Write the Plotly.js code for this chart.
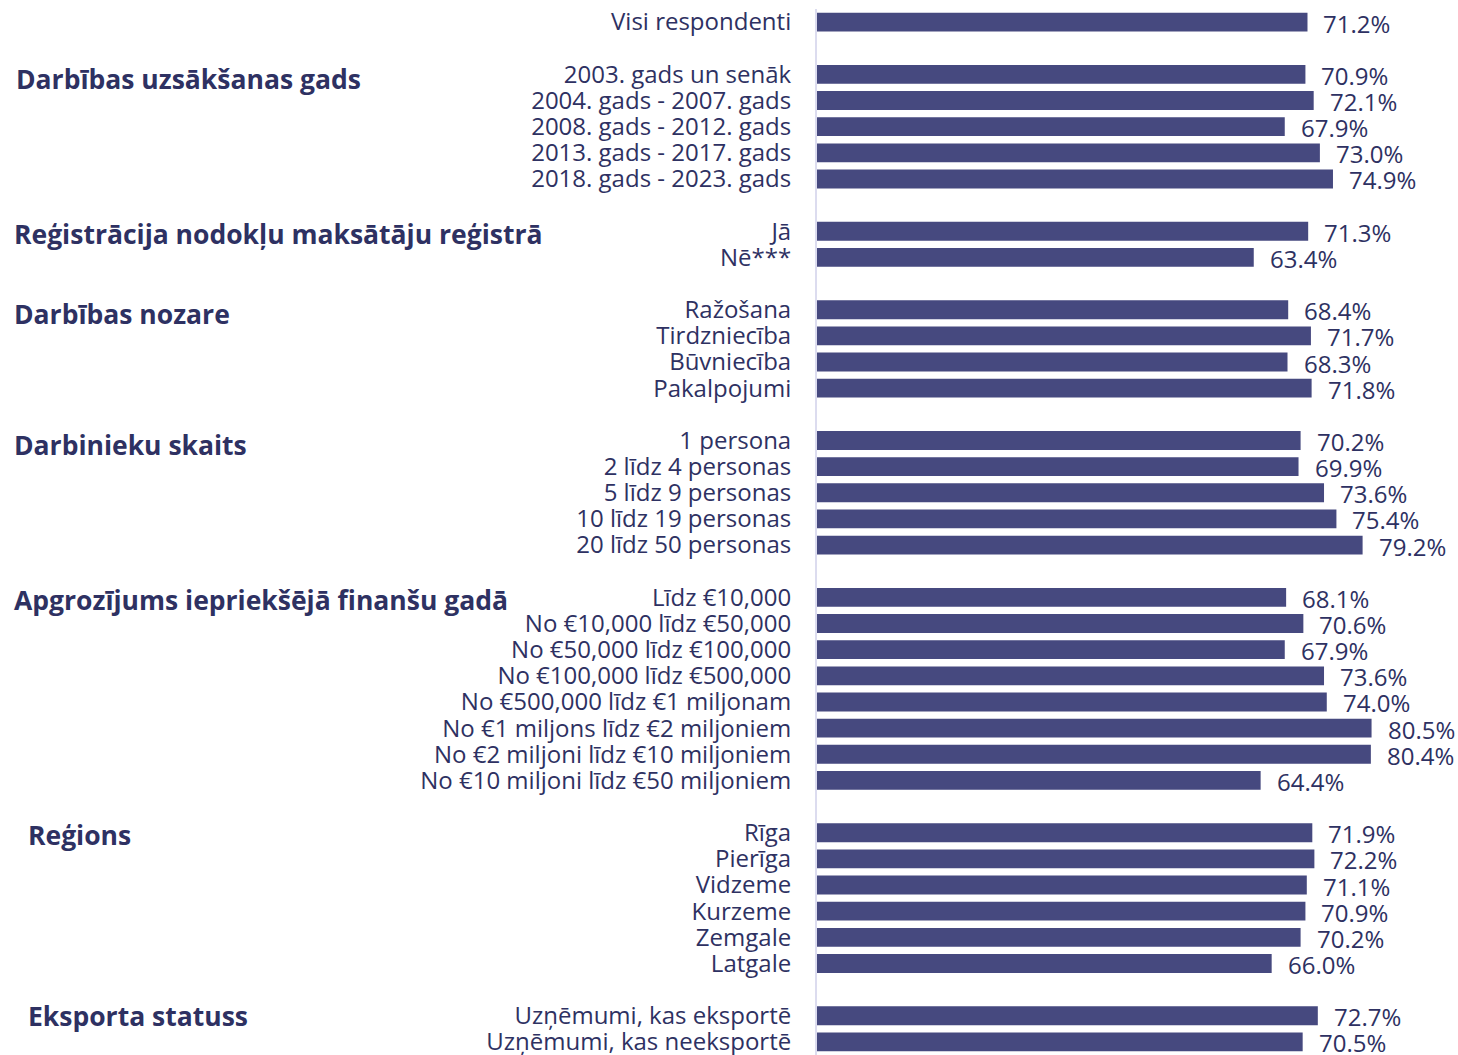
<!DOCTYPE html>
<html>
<head>
<meta charset="utf-8">
<script src="https://cdn.plot.ly/plotly-3.0.1.min.js"></script>
<style>html,body{margin:0;padding:0;background:#fff;}#chart{width:1458px;height:1055px;}</style>
</head>
<body>
<div id="chart"></div>
<script>
// ---- data ----
const overallLabel = "Visi respondenti";
const overallValue = 71.2;

const groupTitles = [
  "Darbības uzsākšanas gads",
  "Reģistrācija nodokļu maksātāju reģistrā",
  "Darbības nozare",
  "Darbinieku skaits",
  "Apgrozījums iepriekšējā finanšu gadā",
  "Reģions",
  "Eksporta statuss"
];

const startYearLabels = ["2003. gads un senāk", "2004. gads - 2007. gads", "2008. gads - 2012. gads", "2013. gads - 2017. gads", "2018. gads - 2023. gads"];
const startYearValues = [70.9, 72.1, 67.9, 73.0, 74.9];

const registrationLabels = ["Jā", "Nē***"];
const registrationValues = [71.3, 63.4];

const sectorLabels = ["Ražošana", "Tirdzniecība", "Būvniecība", "Pakalpojumi"];
const sectorValues = [68.4, 71.7, 68.3, 71.8];

const employeeLabels = ["1 persona", "2 līdz 4 personas", "5 līdz 9 personas", "10 līdz 19 personas", "20 līdz 50 personas"];
const employeeValues = [70.2, 69.9, 73.6, 75.4, 79.2];

const turnoverLabels = ["Līdz €10,000", "No €10,000 līdz €50,000", "No €50,000 līdz €100,000", "No €100,000 līdz €500,000", "No €500,000 līdz €1 miljonam", "No €1 miljons līdz €2 miljoniem", "No €2 miljoni līdz €10 miljoniem", "No €10 miljoni līdz €50 miljoniem"];
const turnoverValues = [68.1, 70.6, 67.9, 73.6, 74.0, 80.5, 80.4, 64.4];

const regionLabels = ["Rīga", "Pierīga", "Vidzeme", "Kurzeme", "Zemgale", "Latgale"];
const regionValues = [71.9, 72.2, 71.1, 70.9, 70.2, 66.0];

const exportLabels = ["Uzņēmumi, kas eksportē", "Uzņēmumi, kas neeksportē"];
const exportValues = [72.7, 70.5];

// ---- build rows ----
const groupLabels = [startYearLabels, registrationLabels, sectorLabels, employeeLabels, turnoverLabels, regionLabels, exportLabels];
const groupValues = [startYearValues, registrationValues, sectorValues, employeeValues, turnoverValues, regionValues, exportValues];

const ys = [], xs = [], labels = [], groupStartRows = [];
let row = 0;
ys.push(row); xs.push(overallValue); labels.push(overallLabel);
row += 2;
groupLabels.forEach((lbls, g) => {
  groupStartRows.push(row);
  lbls.forEach((l, i) => {
    ys.push(row); xs.push(groupValues[g][i]); labels.push(l);
    row += 1;
  });
  row += 1;
});
const lastRow = row - 2;

const textColor = "#2e3162";
const barColor = "#46497f";

const headerXShift = [-803, -805, -805, -805, -805, -791, -791];
const headerYShift = [-5, -3, -4, -5, -3, -2, 0];

const annotations = [];
xs.forEach((v, i) => {
  annotations.push({
    x: v, y: ys[i], xref: "x", yref: "y",
    text: v.toFixed(1) + "%", showarrow: false,
    xanchor: "left", yanchor: "middle", xshift: 14, yshift: -1,
    font: {family: "Open Sans", size: 24, color: textColor}
  });
});
groupTitles.forEach((t, g) => {
  annotations.push({
    x: 0, y: groupStartRows[g], xref: "paper", yref: "y",
    text: "<b>" + t + "</b>", showarrow: false,
    xanchor: "left", yanchor: "middle", xshift: headerXShift[g], yshift: headerYShift[g],
    font: {family: "Open Sans", size: 26.5, color: textColor}
  });
});

const trace = {
  type: "bar", orientation: "h",
  x: xs, y: ys,
  marker: {color: barColor},
  width: 0.72,
  hoverinfo: "skip"
};

const layout = {
  width: 1458, height: 1055,
  margin: {l: 817, r: 21, t: 9, b: 0},
  paper_bgcolor: "#ffffff", plot_bgcolor: "#ffffff",
  showlegend: false,
  xaxis: {range: [0, 90], showgrid: false, zeroline: false, showticklabels: false, showline: false, fixedrange: true},
  yaxis: {
    range: [lastRow + 0.5, -0.5],
    tickmode: "array", tickvals: ys, ticktext: labels,
    showgrid: false, zeroline: false,
    showline: true, linecolor: "#dcdcef", linewidth: 2,
    ticks: "", ticklabelstandoff: 19, ticklabeloverflow: "allow",
    tickfont: {family: "Open Sans", size: 24, color: textColor}
  },
  annotations: annotations
};

Plotly.newPlot("chart", [trace], layout, {displayModeBar: false, staticPlot: true});
</script>
</body>
</html>
